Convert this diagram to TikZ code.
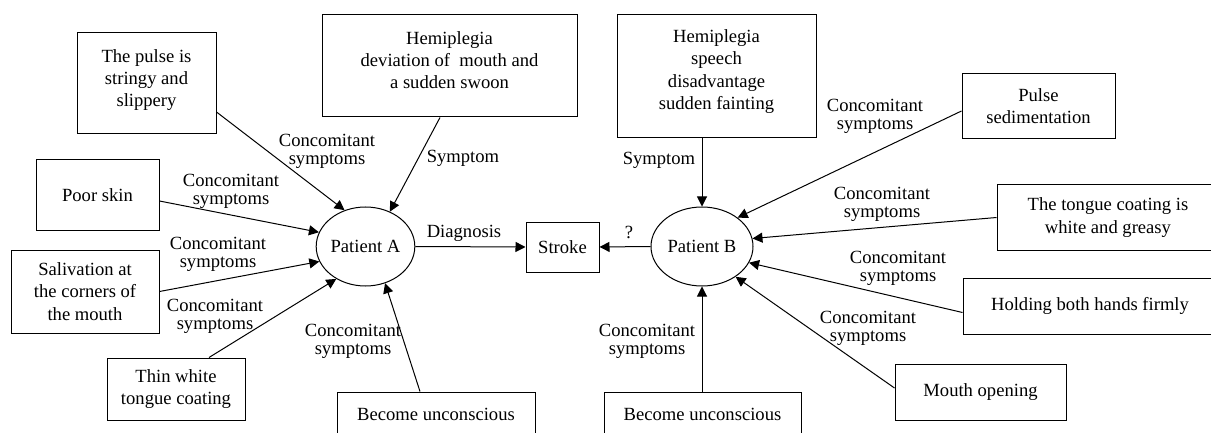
\documentclass[tikz,border=0pt]{standalone}
\usepackage{fontspec}
\setmainfont{Liberation Serif}
\usetikzlibrary{arrows.meta,shapes.geometric}
\begin{document}
\begin{tikzpicture}[x=1pt,y=-1pt,
        arrow/.style = {line width=1pt,-{Triangle[length=10pt,width=10pt]}},
        box/.style = {draw,line width=1pt,align=center,inner sep=2pt},
        patient/.style = {draw,ellipse,line width=1pt,inner sep=0pt},
        lbl/.style = {align=center,inner sep=0pt,font=\fontsize{18.6}{18}\selectfont},
        font=\fontsize{18.6}{22.2}\selectfont]
                \useasboundingbox (0,0) rectangle (1211,433);

                \node[patient,minimum width=97,minimum height=79]  (pA) at (365.5,246.5) {Patient A};
                \node[patient,minimum width=102,minimum height=79] (pB) at (702,246.5)   {Patient B};
                \node[box,minimum width=73,minimum height=50]      (st) at (562.5,247)   {Stroke};

                % patient A side
                \node[box,minimum width=139,minimum height=101] (ps)  at (146.5,83.5) {The pulse is\\stringy and\\slippery\rule[-11pt]{0pt}{0pt}};
                \node[box,minimum width=255,minimum height=102] (hA)  at (449.5,66)   {Hemiplegia\\deviation of\ \ mouth and\\a sudden swoon\rule[-12pt]{0pt}{0pt}};
                \node[box,minimum width=123,minimum height=70]  (sk)  at (97.5,195)   {Poor skin};
                \node[box,minimum width=148,minimum height=83]  (sal) at (85,291.5)   {Salivation at\\the corners of\\the mouth};
                \node[box,minimum width=138,minimum height=62]  (tw)  at (176,389)    {Thin white\\tongue coating};
                \node[box,minimum width=198,minimum height=44]  (uA)  at (436,414)    {Become unconscious};

                % patient B side
                \node[box,minimum width=199,minimum height=123] (hB)  at (716.5,76.5) {Hemiplegia\\speech\\disadvantage\\sudden fainting\rule[-14pt]{0pt}{0pt}};
                \node[box,minimum width=197,minimum height=44]  (uB)  at (702.5,414)  {Become unconscious};
                \node[box,minimum width=153,minimum height=65]  (psd) at (1038.5,106.5) {Pulse\\sedimentation};
                \node[box,minimum width=222,minimum height=65]  (tg)  at (1108,217.5) {The tongue coating is\\white and greasy};
                \node[box,minimum width=254,minimum height=56]  (hd)  at (1090,306)   {Holding both hands firmly};
                \node[box,minimum width=171,minimum height=56]  (mo)  at (980.5,392)  {Mouth opening};

                \draw[arrow] ([yshift=-28.5pt]ps.east) to (pA.120.5);
                \draw[arrow] ([xshift=-9.5pt]hA.south)  to (pA.55.4);
                \draw[arrow] ([yshift=-6pt]sk.east)     to (pA.163);
                \draw[arrow] (sal.east)                 to (pA.198);
                \draw[arrow] ([xshift=33pt]tw.north)    to (pA.228.6);
                \draw[arrow] ([xshift=-16pt]uA.north)   to (pA.298.6);
                \draw[arrow] (pA.east) to (st.west);

                \draw[arrow] (pB.west) to (st.east);
                \draw[arrow] (hB.south -| pB.north)     to (pB.north);
                \draw[arrow] (uB.north -| pB.south)     to (pB.south);
                \draw[arrow] ([yshift=-4.5pt]psd.west)  to (pB.39.3);
                \draw[arrow] (tg.west)                  to (pB.9.1);
                \draw[arrow] ([yshift=-6.5pt]hd.west)   to (pB.-19.3);
                \draw[arrow] ([yshift=4pt]mo.west)      to (pB.-42.9);

                % edge labels
                \node[lbl] (lps)  at (327,151) {Concomitant\\symptoms};
                \node[lbl] (lhA)  at (463,158) {Symptom};
                \node[lbl] (lsk)  at (231,191) {Concomitant\\symptoms};
                \node[lbl] (lsal) at (218,254) {Concomitant\\symptoms};
                \node[lbl] (ltw)  at (215,316) {Concomitant\\symptoms};
                \node[lbl] (luA)  at (353,341) {Concomitant\\symptoms};
                \node[lbl] (ldg)  at (464,233) {Diagnosis};
                \node[lbl] (lq)   at (629,232) {?};
                \node[lbl] (lhB)  at (659,160) {Symptom};
                \node[lbl] (luB)  at (647,341) {Concomitant\\symptoms};
                \node[lbl] (lpsd) at (875,116) {Concomitant\\symptoms};
                \node[lbl] (ltg)  at (882,204) {Concomitant\\symptoms};
                \node[lbl] (lhd)  at (898,268) {Concomitant\\symptoms};
                \node[lbl] (lmo)  at (868,328) {Concomitant\\symptoms};
            \end{tikzpicture}
\end{document}
